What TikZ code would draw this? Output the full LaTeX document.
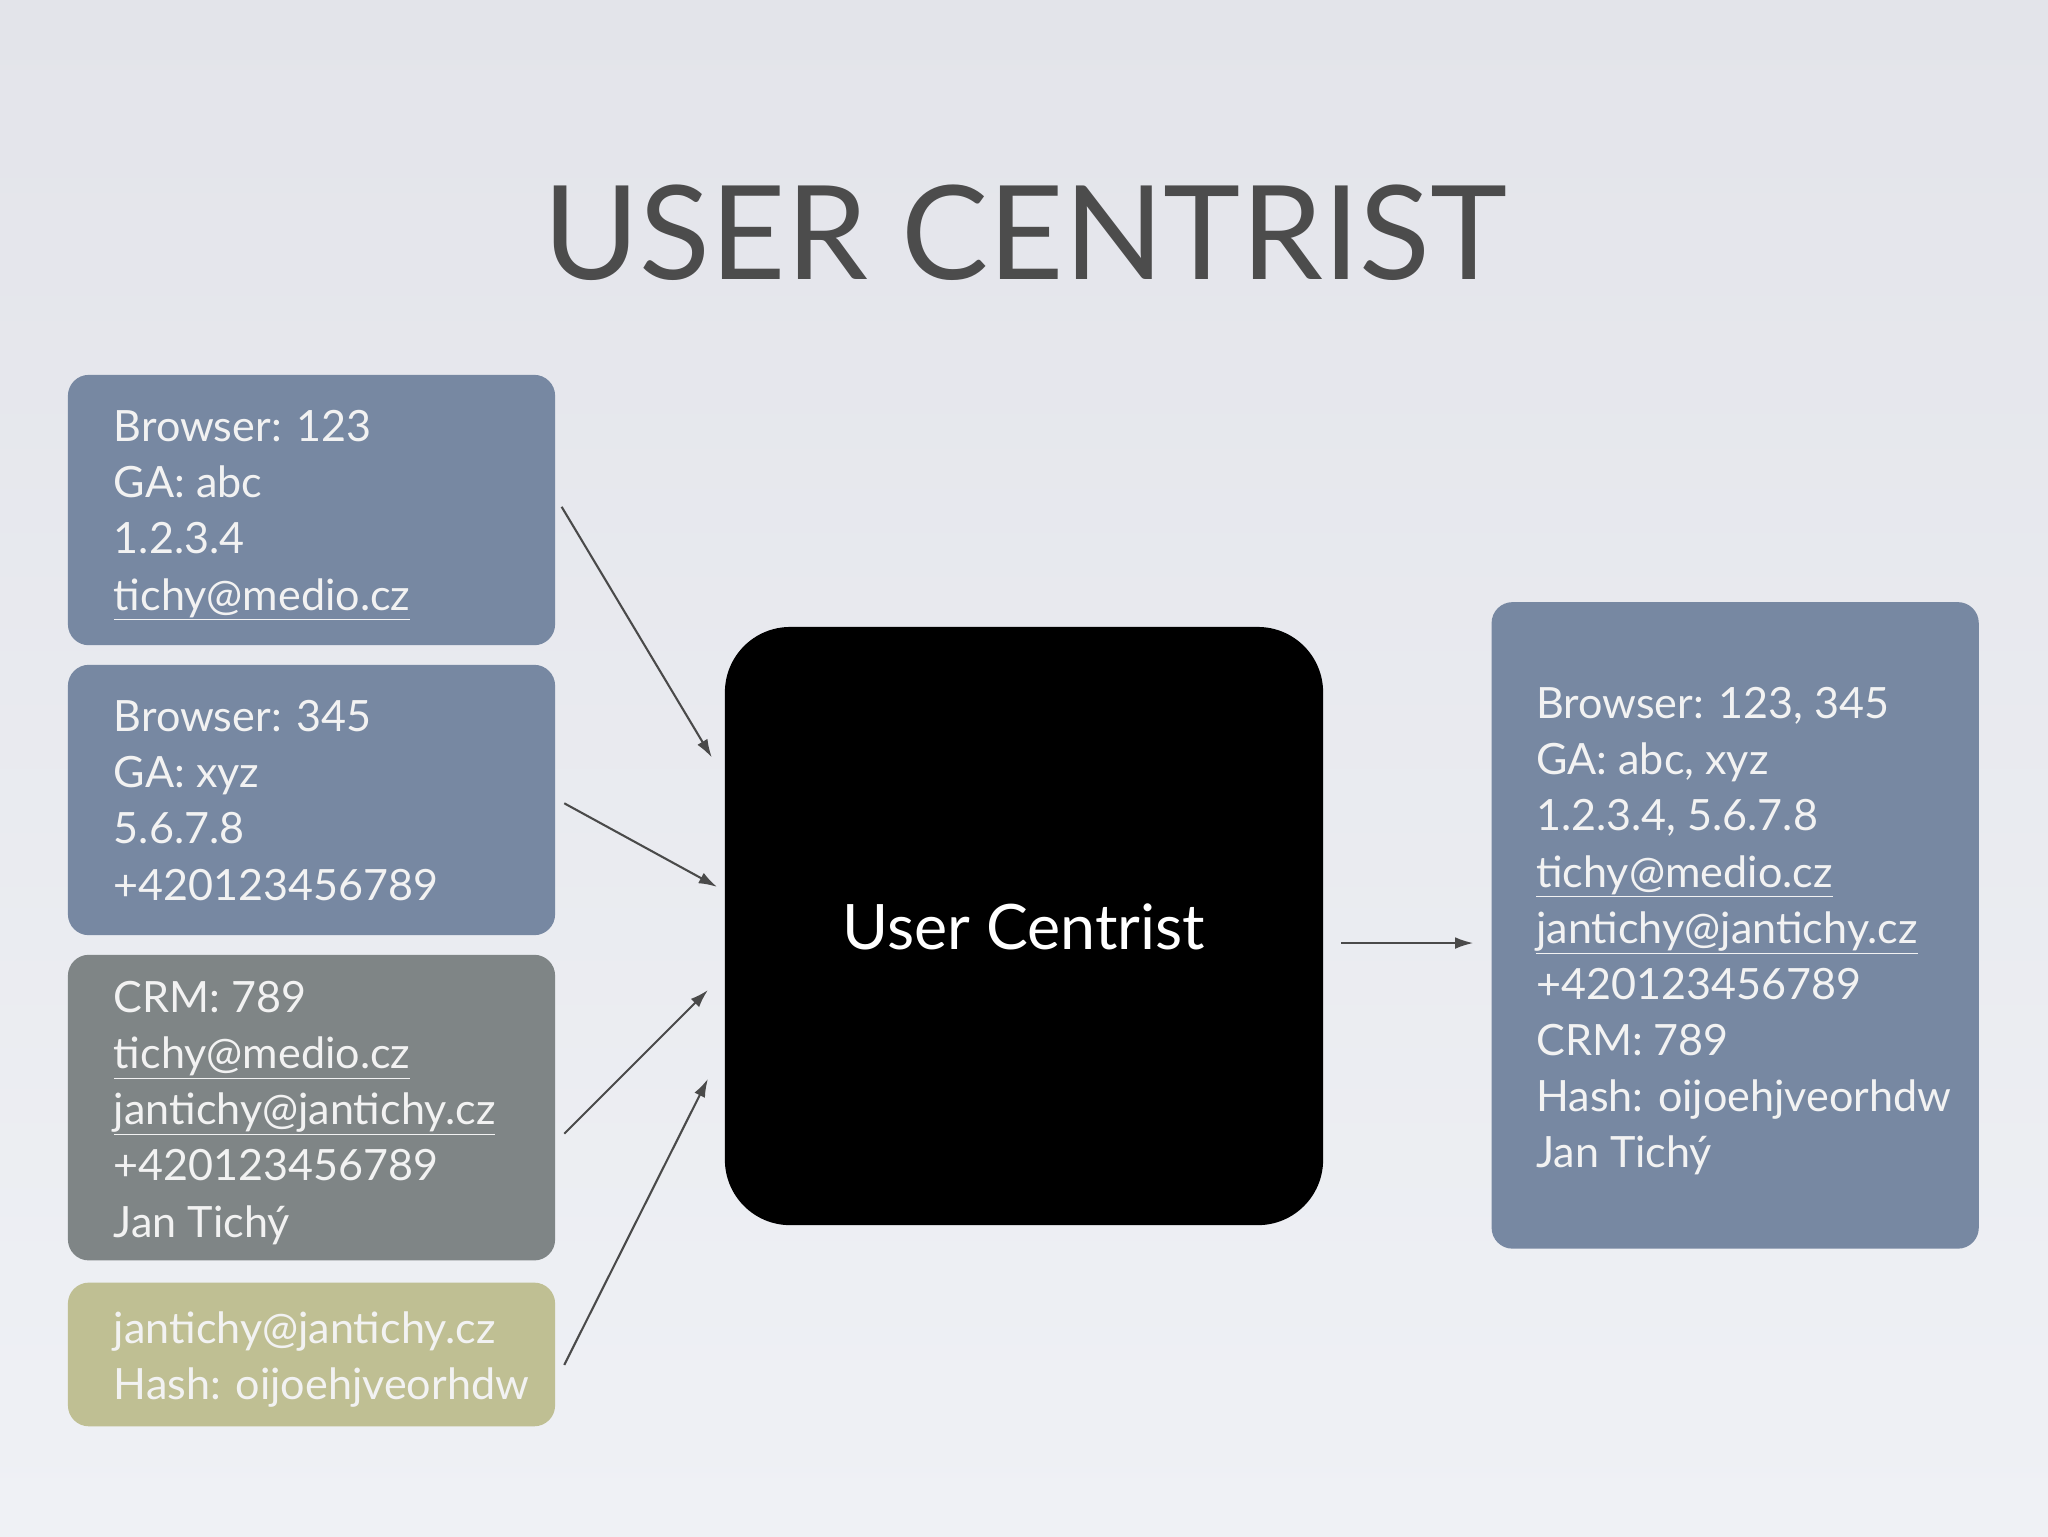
\documentclass[tikz,border=0pt]{standalone}
\usepackage{fontspec}
\setmainfont{Lato}
\usetikzlibrary{arrows.meta}
\definecolor{bluebox}{HTML}{7788A2}
\definecolor{graybox}{HTML}{7F8586}
\definecolor{olivebox}{HTML}{BFBF93}
\definecolor{txt}{HTML}{F2F2F2}
\definecolor{arr}{HTML}{4A4A4A}
\definecolor{bgtop}{HTML}{E3E4EA}
\definecolor{bgbot}{HTML}{EFF1F5}
\begin{document}
\begin{tikzpicture}[x=1pt,y=-1pt,
  card/.style={rounded corners=16pt,inner sep=0pt},
  cardtext/.style={anchor=north west,align=left,text=txt,inner sep=0pt,font=\fontsize{33}{43}\selectfont},
  conn/.style={draw=arr,line width=1.6pt,-{Latex[length=14pt,width=9pt]}}]
\shade[top color=bgtop, bottom color=bgbot] (0,0) rectangle (1568,1176);
\useasboundingbox (0,0) rectangle (1568,1176);
\node[text=black!70,font=\fontsize{100}{100}\selectfont] (title) at (785,178) {USER CENTRIST};
\fill[bluebox,card] (52,287) rectangle (425,494);
\fill[bluebox,card] (52,509) rectangle (425,716);
\fill[graybox,card] (52,731) rectangle (425,965);
\fill[olivebox,card] (52,982) rectangle (425,1092);
\fill[black,rounded corners=50pt] (555,480) rectangle (1013,938);
\fill[bluebox,card] (1142,461) rectangle (1515,956);
\node[cardtext] (b1) at (87,314) {Browser: 123\\GA: abc\\1.2.3.4\\\underline{tichy@medio.cz}};
\node[cardtext] (b2) at (87,536) {Browser: 345\\GA: xyz\\5.6.7.8\\+420123456789};
\node[cardtext] (b3) at (87,751) {CRM: 789\\\underline{tichy@medio.cz}\\\underline{jantichy@jantichy.cz}\\+420123456789\\Jan Tichý};
\node[cardtext] (b4) at (87,1004) {jantichy@jantichy.cz\\Hash: oijoehjveorhdw};
\node[text=white,font=\fontsize{48}{48}\selectfont] (uc) at (784,710) {User Centrist};
\node[cardtext] (res) at (1176,526) {Browser: 123, 345\\GA: abc, xyz\\1.2.3.4, 5.6.7.8\\\underline{tichy@medio.cz}\\\underline{jantichy@jantichy.cz}\\+420123456789\\CRM: 789\\Hash: oijoehjveorhdw\\Jan Tichý};
\coordinate (s1) at (430,388); \coordinate (e1) at (545,580);
\coordinate (s2) at (432,615); \coordinate (e2) at (549,679);
\coordinate (s3) at (432,868); \coordinate (e3) at (542,758);
\coordinate (s4) at (432,1045); \coordinate (e4) at (542,826);
\coordinate (s5) at (1027,722); \coordinate (e5) at (1128,722);
\draw[conn] (s1)--(e1);
\draw[conn] (s2)--(e2);
\draw[conn] (s3)--(e3);
\draw[conn] (s4)--(e4);
\draw[conn] (s5)--(e5);
\end{tikzpicture}
\end{document}
